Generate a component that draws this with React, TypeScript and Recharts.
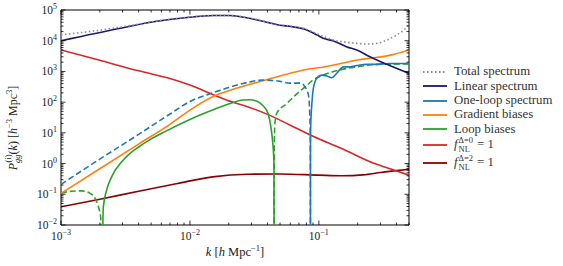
import React from "react";
import { LineChart, Line, XAxis, YAxis, ReferenceArea } from "recharts";

// Total spectrum (grey dotted)
const totalK = [0.001, 0.0016, 0.00296, 0.00537, 0.00916, 0.0152, 0.0205, 0.0275, 0.0394, 0.0497, 0.0605, 0.0765, 0.0964, 0.108, 0.13, 0.165, 0.197, 0.235, 0.281, 0.336, 0.402, 0.453, 0.494, 0.5];
const totalP = [1.55e4, 1.95e4, 2.8e4, 4.3e4, 5.7e4, 6.6e4, 6.6e4, 5.7e4, 4.1e4, 3.3e4, 3.0e4, 2.5e4, 1.7e4, 1.4e4, 1.05e4, 8.9e3, 8.2e3, 7.8e3, 8.2e3, 1.05e4, 1.55e4, 2.2e4, 3.2e4, 3.3e4];

// Linear spectrum
const linearK = [0.001, 0.00296, 0.00537, 0.00916, 0.0152, 0.0205, 0.0275, 0.0394, 0.0497, 0.0605, 0.0765, 0.0964, 0.108, 0.13, 0.165, 0.197, 0.249, 0.336, 0.5];
const linearP = [1.0e4, 2.6e4, 4.2e4, 5.6e4, 6.6e4, 6.6e4, 5.6e4, 4.0e4, 3.2e4, 2.9e4, 2.4e4, 1.55e4, 1.2e4, 9.8e3, 6.3e3, 5.0e3, 3.0e3, 1.7e3, 860];

// One-loop spectrum: negative part (|P|, dashed) and positive part (solid)
const oneLoopNegK = [0.001, 0.002, 0.004, 0.007, 0.01, 0.015, 0.02, 0.028, 0.037, 0.048, 0.06, 0.072, 0.078, 0.083, 0.085, 0.0858, 0.086];
const oneLoopNegP = [0.21, 1.4, 8.9, 41, 105, 200, 300, 440, 525, 490, 415, 415, 316, 170, 40, 8, 1e-4];
const oneLoopPosK = [0.086, 0.0861, 0.0865, 0.0881, 0.0906, 0.0964, 0.1054, 0.1152, 0.126, 0.1377, 0.155, 0.1745, 0.197, 0.235, 0.281, 0.356, 0.5];
const oneLoopPosP = [1e-4, 4, 19, 81, 280, 600, 760, 710, 620, 870, 1410, 1410, 1550, 1700, 1700, 1820, 1820];

// Gradient biases
const gradK = [0.001, 0.002, 0.004, 0.007, 0.01, 0.015, 0.02, 0.028, 0.04, 0.06, 0.08, 0.11, 0.2, 0.36, 0.5];
const gradP = [0.107, 0.68, 4.3, 19, 55, 150, 235, 360, 550, 870, 1150, 1400, 2350, 3400, 5000];

// Loop biases: positive (solid) and negative (|P|, dashed) parts
const loopPosK = [0.00207, 0.00213, 0.00226, 0.00247, 0.00296, 0.00343, 0.00398, 0.0049, 0.00641, 0.00916, 0.01197, 0.01566, 0.02047, 0.0258, 0.0292, 0.0332, 0.0369, 0.0404, 0.0424, 0.0439, 0.0448, 0.045];
const loopPosP = [1e-5, 0.039, 0.138, 0.37, 1.15, 2.14, 3.4, 6.0, 11, 23, 38, 60, 91, 117, 120, 107, 76, 42, 16, 4.6, 1.2, 1e-4];
const loopNegLowK = [0.001, 0.00121, 0.00145, 0.00168, 0.00184, 0.00195, 0.00203, 0.00207];
const loopNegLowP = [0.107, 0.126, 0.129, 0.107, 0.074, 0.039, 0.0186, 1e-5];
const loopNegHighK = [0.045, 0.0451, 0.0455, 0.0471, 0.0563, 0.0678, 0.081, 0.0901, 0.108, 0.146, 0.197, 0.281, 0.494, 0.5];
const loopNegHighP = [1e-4, 3, 18, 43, 90, 190, 355, 525, 760, 1120, 1410, 1700, 1740, 1740];

// f_NL^{Δ=0} = 1
const fnl0K = [0.001, 0.002, 0.004, 0.007, 0.01, 0.015, 0.02, 0.028, 0.04, 0.06, 0.09, 0.15, 0.27, 0.38, 0.5];
const fnl0P = [5000, 2300, 1050, 590, 360, 178, 110, 71, 40, 17.8, 7.8, 3.1, 1.0, 0.62, 0.42];

// f_NL^{Δ=2} = 1
const fnl2K = [0.001, 0.002, 0.004, 0.008, 0.015, 0.028, 0.05, 0.1, 0.15, 0.22, 0.3, 0.4, 0.5];
const fnl2P = [0.039, 0.069, 0.126, 0.226, 0.37, 0.45, 0.46, 0.42, 0.4, 0.43, 0.51, 0.59, 0.65];

const xMajor = [0.001, 0.01, 0.1];
const yMajor = [1e-2, 1e-1, 1, 10, 100, 1e3, 1e4, 1e5];

const FONT = '"Liberation Serif", "DejaVu Serif", serif';
const PLOT = { left: 61, right: 409, top: 10, bottom: 225 };

const C = {
  total: "#8c8c8c",
  linear: "#191970",
  oneLoop: "#1f77b4",
  grad: "#ff7f0e",
  loop: "#2ca02c",
  fnl0: "#d62728",
  fnl2: "#8b0000",
};

const zip = (k: number[], p: number[]) => k.map((v, i) => ({ k: v, p: p[i] }));

const minors = (majors: number[], last: number) => {
  const out: number[] = [];
  majors.forEach((m) => {
    for (let d = 2; d <= 9; d++) {
      const v = m * d;
      if (v <= last * 1.0001) out.push(v);
    }
  });
  return out;
};

const xTicks = [...xMajor, ...minors(xMajor, 0.5)];
const yTicks = [...yMajor, ...minors(yMajor.slice(0, -1), 1e5)];

const isMajor = (v: number) => {
  const l = Math.log10(v);
  return Math.abs(l - Math.round(l)) < 1e-6;
};

const expText = (v: number) => {
  const e = Math.round(Math.log10(v));
  return e < 0 ? `\u2212${-e}` : `${e}`;
};

function XTick(props: any) {
  const { x, payload } = props;
  const v = payload.value;
  const major = isMajor(v);
  const len = major ? 4.5 : 2.5;
  return (
    <g>
      <line x1={x} x2={x} y1={PLOT.bottom} y2={PLOT.bottom - len} stroke="#000" strokeWidth={0.8} />
      <line x1={x} x2={x} y1={PLOT.top} y2={PLOT.top + len} stroke="#000" strokeWidth={0.8} />
      {major && (
        <text x={x} y={PLOT.bottom + 15} textAnchor="middle" fontFamily={FONT} fontSize={11.5} fill="#222">
          10
          <tspan fontSize={8} dy={-5}>
            {expText(v)}
          </tspan>
        </text>
      )}
    </g>
  );
}

function YTick(props: any) {
  const { y, payload } = props;
  const v = payload.value;
  const major = isMajor(v);
  const len = major ? 4.5 : 2.5;
  return (
    <g>
      <line x1={PLOT.left} x2={PLOT.left + len} y1={y} y2={y} stroke="#000" strokeWidth={0.8} />
      <line x1={PLOT.right} x2={PLOT.right - len} y1={y} y2={y} stroke="#000" strokeWidth={0.8} />
      {major && (
        <text x={PLOT.left - 4} y={y + 4} textAnchor="end" fontFamily={FONT} fontSize={11.5} fill="#222">
          10
          <tspan fontSize={8} dy={-5}>
            {expText(v)}
          </tspan>
        </text>
      )}
    </g>
  );
}

function YLabel() {
  return (
    <text
      transform="translate(17,128) rotate(-90)"
      textAnchor="middle"
      fontFamily={FONT}
      fontSize={12}
      fill="#222"
    >
      <tspan fontStyle="italic">P</tspan>
      <tspan fontStyle="italic" fontSize={8.5} dy={3}>gg</tspan>
      <tspan fontSize={8.5} dx={-8} dy={-9}>(i)</tspan>
      <tspan dy={6}>(</tspan>
      <tspan fontStyle="italic">k</tspan>
      <tspan>) [</tspan>
      <tspan fontStyle="italic">h</tspan>
      <tspan fontSize={8.5} dy={-5}>{"\u22123"}</tspan>
      <tspan dy={5}> Mpc</tspan>
      <tspan fontSize={8.5} dy={-5}>3</tspan>
      <tspan dy={5}>]</tspan>
    </text>
  );
}

function XLabel() {
  return (
    <text x={235} y={256} textAnchor="middle" fontFamily={FONT} fontSize={12.5} fill="#222">
      <tspan fontStyle="italic">k</tspan>
      <tspan> [</tspan>
      <tspan fontStyle="italic">h</tspan>
      <tspan> Mpc</tspan>
      <tspan fontSize={8.5} dy={-5}>{"\u22121"}</tspan>
      <tspan dy={5}>]</tspan>
    </text>
  );
}

function FnlLabel({ delta }: { delta: string }) {
  return (
    <span style={{ display: "inline-flex", alignItems: "center" }}>
      <i>f</i>
      <span
        style={{
          display: "inline-flex",
          flexDirection: "column",
          fontSize: 8.5,
          lineHeight: "8.5px",
          marginLeft: 1,
        }}
      >
        <span>{"\u0394=" + delta}</span>
        <span>NL</span>
      </span>
      <span style={{ marginLeft: 4 }}>= 1</span>
    </span>
  );
}

const legendItems = [
  { color: C.total, dash: "1.5 2.5", h: 14.3, label: <span>Total spectrum</span> },
  { color: C.linear, h: 14.3, label: <span>Linear spectrum</span> },
  { color: C.oneLoop, h: 14.3, label: <span>One-loop spectrum</span> },
  { color: C.grad, h: 14.3, label: <span>Gradient biases</span> },
  { color: C.loop, h: 14.3, label: <span>Loop biases</span> },
  { color: C.fnl0, h: 17.3, label: <FnlLabel delta="0" /> },
  { color: C.fnl2, h: 18.7, label: <FnlLabel delta="2" /> },
];

function ChartLegend() {
  return (
    <div
      style={{
        position: "absolute",
        left: 423,
        top: 64.8,
        fontFamily: FONT,
        fontSize: 12.8,
        color: "#333",
        whiteSpace: "nowrap",
      }}
    >
      {legendItems.map((it, i) => (
        <div key={i} style={{ display: "flex", alignItems: "center", height: it.h }}>
          <svg width={24} height={4} style={{ marginRight: 7 }}>
            <line
              x1={0}
              x2={24}
              y1={2}
              y2={2}
              stroke={it.color}
              strokeWidth={1.8}
              strokeDasharray={it.dash}
            />
          </svg>
          {it.label}
        </div>
      ))}
    </div>
  );
}

const lineProps = {
  dataKey: "p",
  dot: false,
  type: "monotone" as const,
  isAnimationActive: false,
  strokeWidth: 1.6,
};

export default function App() {
  return (
    <div style={{ position: "relative", width: 563, height: 266, background: "#fff" }}>
      <style>{"body{margin:0}"}</style>
      <LineChart width={563} height={266} margin={{ top: 10, right: 154, bottom: 0, left: 0 }}>
        <XAxis
          dataKey="k"
          type="number"
          scale="log"
          domain={[0.001, 0.5]}
          allowDataOverflow
          ticks={xTicks}
          interval={0}
          tick={<XTick />}
          tickLine={false}
          axisLine={false}
          height={41}
          label={<XLabel />}
        />
        <YAxis
          type="number"
          scale="log"
          domain={[0.01, 1e5]}
          allowDataOverflow
          ticks={yTicks}
          interval={0}
          tick={<YTick />}
          tickLine={false}
          axisLine={false}
          width={61}
          label={<YLabel />}
        />
        <Line {...lineProps} data={zip(fnl2K, fnl2P)} stroke={C.fnl2} />
        <Line {...lineProps} data={zip(fnl0K, fnl0P)} stroke={C.fnl0} />
        <Line {...lineProps} data={zip(loopNegLowK, loopNegLowP)} stroke={C.loop} strokeDasharray="6 3" />
        <Line {...lineProps} data={zip(loopNegHighK, loopNegHighP)} stroke={C.loop} strokeDasharray="6 3" />
        <Line {...lineProps} data={zip(loopPosK, loopPosP)} stroke={C.loop} />
        <Line {...lineProps} data={zip(gradK, gradP)} stroke={C.grad} />
        <Line {...lineProps} data={zip(oneLoopNegK, oneLoopNegP)} stroke={C.oneLoop} strokeDasharray="6 3" />
        <Line {...lineProps} data={zip(oneLoopPosK, oneLoopPosP)} stroke={C.oneLoop} />
        <Line {...lineProps} data={zip(linearK, linearP)} stroke={C.linear} />
        <Line {...lineProps} data={zip(totalK, totalP)} stroke={C.total} strokeDasharray="1.5 2.5" />
        <ReferenceArea x1={0.001} x2={0.5} y1={0.01} y2={1e5} fill="none" stroke="#000" strokeWidth={1} />
      </LineChart>
      <ChartLegend />
    </div>
  );
}
